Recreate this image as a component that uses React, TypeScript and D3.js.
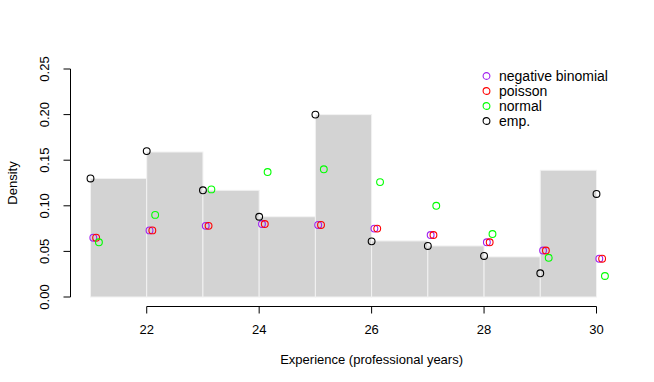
import React, { useEffect, useRef } from "react";
import * as d3 from "d3";

// histogram bins (left edges) and densities
const binStarts = [21, 22, 23, 24, 25, 26, 27, 28, 29];
const binDensity = [0.13, 0.159, 0.117, 0.088, 0.2, 0.0615, 0.056, 0.044, 0.139];

// point estimates at each experience value
const years = [21, 22, 23, 24, 25, 26, 27, 28, 29, 30];
const empirical = [0.13, 0.16, 0.117, 0.088, 0.2, 0.061, 0.056, 0.045, 0.026, 0.113];
const negBinomial = [0.065, 0.073, 0.078, 0.08, 0.079, 0.075, 0.068, 0.06, 0.051, 0.042];
const poisson = [0.065, 0.073, 0.078, 0.08, 0.079, 0.075, 0.068, 0.06, 0.051, 0.042];
const normal = [0.06, 0.09, 0.118, 0.137, 0.14, 0.126, 0.1, 0.069, 0.043, 0.023];

const xTicks = [22, 24, 26, 28, 30];
const yTicks = [0, 0.05, 0.1, 0.15, 0.2, 0.25];

const legendItems = [
  { label: "negative binomial", color: "#a020f0" },
  { label: "poisson", color: "#ff0000" },
  { label: "normal", color: "#00ff00" },
  { label: "emp.", color: "#000000" },
];

const series = [
  { values: negBinomial, color: "#a020f0", shift: 0.05 },
  { values: poisson, color: "#ff0000", shift: 0.1 },
  { values: normal, color: "#00ff00", shift: 0.15 },
  { values: empirical, color: "#000000", shift: 0 },
];

const App = () => {
  const svgRef = useRef<SVGSVGElement>(null);

  useEffect(() => {
    const width = 654;
    const height = 382;
    const font = "'Liberation Sans', Arial, Helvetica, sans-serif";

    const svg = d3.select(svgRef.current).attr("width", width).attr("height", height);
    svg.selectAll("*").remove();

    const x = d3.scaleLinear().domain([21, 30]).range([90.5, 596.5]);
    const y = d3.scaleLinear().domain([0, 0.25]).range([297, 69]);

    // bars
    svg
      .append("g")
      .selectAll("rect")
      .data(binStarts)
      .enter()
      .append("rect")
      .attr("x", (d) => x(d))
      .attr("width", (d) => x(d + 1) - x(d))
      .attr("y", (d, i) => y(binDensity[i]))
      .attr("height", (d, i) => y(0) - y(binDensity[i]))
      .attr("fill", "#d3d3d3")
      .attr("stroke", "#f2f2f2")
      .attr("stroke-width", 1);

    // points
    series.forEach((s) => {
      svg
        .append("g")
        .selectAll("circle")
        .data(s.values)
        .enter()
        .append("circle")
        .attr("cx", (d, i) => x(years[i] + s.shift))
        .attr("cy", (d) => y(d))
        .attr("r", 3.4)
        .attr("fill", "none")
        .attr("stroke", s.color)
        .attr("stroke-width", 1.1);
    });

    // x axis
    const xAxis = svg.append("g").attr("transform", "translate(0,306.5)");
    xAxis
      .append("line")
      .attr("x1", x(22))
      .attr("x2", x(30))
      .attr("stroke", "#000");
    xTicks.forEach((t) => {
      xAxis.append("line").attr("x1", x(t)).attr("x2", x(t)).attr("y1", 0).attr("y2", 7).attr("stroke", "#000");
      xAxis
        .append("text")
        .attr("x", x(t))
        .attr("y", 27.5)
        .attr("text-anchor", "middle")
        .style("font-family", font)
        .style("font-size", "13px")
        .text(t);
    });
    svg
      .append("text")
      .attr("x", x(26))
      .attr("y", 363.5)
      .attr("text-anchor", "middle")
      .style("font-family", font)
      .style("font-size", "13px")
      .text("Experience (professional years)");

    // y axis
    const yAxis = svg.append("g").attr("transform", "translate(70.5,0)");
    yAxis.append("line").attr("y1", y(0)).attr("y2", y(0.25)).attr("stroke", "#000");
    yTicks.forEach((t) => {
      yAxis.append("line").attr("x1", 0).attr("x2", -7).attr("y1", y(t)).attr("y2", y(t)).attr("stroke", "#000");
      yAxis
        .append("text")
        .attr("transform", `translate(-22,${y(t)}) rotate(-90)`)
        .attr("text-anchor", "middle")
        .style("font-family", font)
        .style("font-size", "13px")
        .text(t.toFixed(2));
    });
    svg
      .append("text")
      .attr("transform", `translate(17,${y(0.125)}) rotate(-90)`)
      .attr("text-anchor", "middle")
      .style("font-family", font)
      .style("font-size", "13px")
      .text("Density");

    // legend
    const legend = svg.append("g").attr("transform", "translate(486.5,76)");
    legendItems.forEach((item, i) => {
      legend
        .append("circle")
        .attr("cx", 0)
        .attr("cy", i * 15)
        .attr("r", 3.4)
        .attr("fill", "none")
        .attr("stroke", item.color)
        .attr("stroke-width", 1.1);
      legend
        .append("text")
        .attr("x", 12.5)
        .attr("y", i * 15 + 5)
        .style("font-family", font)
        .style("font-size", "14px")
        .text(item.label);
    });
  }, []);

  return (
    <div style={{ position: "fixed", top: 0, left: 0, background: "#fff" }}>
      <svg ref={svgRef}></svg>
    </div>
  );
};

export default App;
